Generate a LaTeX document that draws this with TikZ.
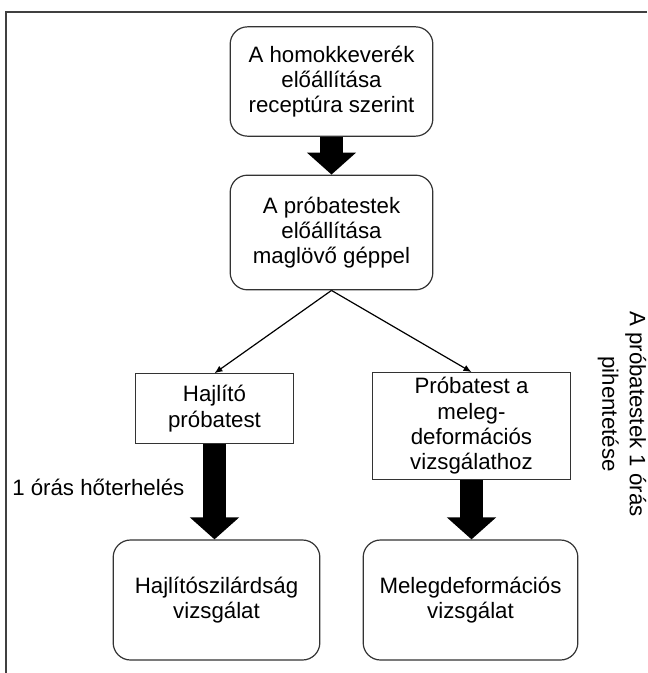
\documentclass[tikz,border=0pt]{standalone}
\usepackage{fontspec}
\setmainfont{Liberation Sans}
\usepackage{tikz}
\usetikzlibrary{arrows.meta}

\begin{document}
\begin{tikzpicture}[
	x=0.75pt, y=-0.75pt,
	lap/.style={draw=black!80, line width=0.9pt, rounded corners=13pt, align=center, font=\fontsize{16.7}{19}\selectfont, inner sep=0pt},
	doboz/.style={draw=black!80, line width=0.9pt, rectangle, align=center, font=\fontsize{16.7}{19}\selectfont, inner sep=0pt},
	felirat/.style={align=center, font=\fontsize{16.7}{20.5}\selectfont, inner sep=0pt},
	vastag/.style={line width=17pt, -{Triangle[width=36pt, length=16.5pt]}},
	vekony/.style={line width=0.9pt, -{Latex[length=6pt, width=5pt]}}
	]
	\useasboundingbox (0,0) rectangle (647,673);
	\draw[line width=1.1pt, black!75] (647,12) -- (6,12) -- (6,673);

	\node[lap, minimum width=152pt, minimum height=82pt] (keverek) at (331.5,81.5) {A homokkeverék\\előállítása\\receptúra szerint};
	\node[lap, minimum width=152pt, minimum height=86pt] (probatest) at (331.5,232.5) {A próbatestek\\előállítása\\maglövő géppel};

	\node[doboz, minimum width=119pt, minimum height=52pt] (hajlito) at (214.5,408.5) {Hajlító\\próbatest};
	\node[doboz, minimum width=148pt, minimum height=80pt] (meleg) at (471.5,426) {Próbatest a\\meleg-\\deformációs\\vizsgálathoz};

	\node[lap, minimum width=155pt, minimum height=90pt] (hajlvizsg) at (216.5,600) {Hajlítószilárdság\\vizsgálat};
	\node[lap, minimum width=161pt, minimum height=90pt] (melegvizsg) at (470.5,600) {Melegdeformációs\\vizsgálat};

	\node[felirat, anchor=base west] (hoterheles) at (12,495) {1 órás hőterhelés};
	\node[felirat, rotate=-90] (pihentetes) at (622,414) {A próbatestek 1 órás\\pihentetése};

	\draw[vastag] (keverek) -- (probatest);
	\draw[vekony] (probatest.south) -- (hajlito.north);
	\draw[vekony] (probatest.south) -- (meleg.north);
	\draw[vastag] (hajlito) -- (hajlito |- hajlvizsg.north);
	\draw[vastag] (meleg) -- (meleg |- melegvizsg.north);
\end{tikzpicture}
\end{document}
